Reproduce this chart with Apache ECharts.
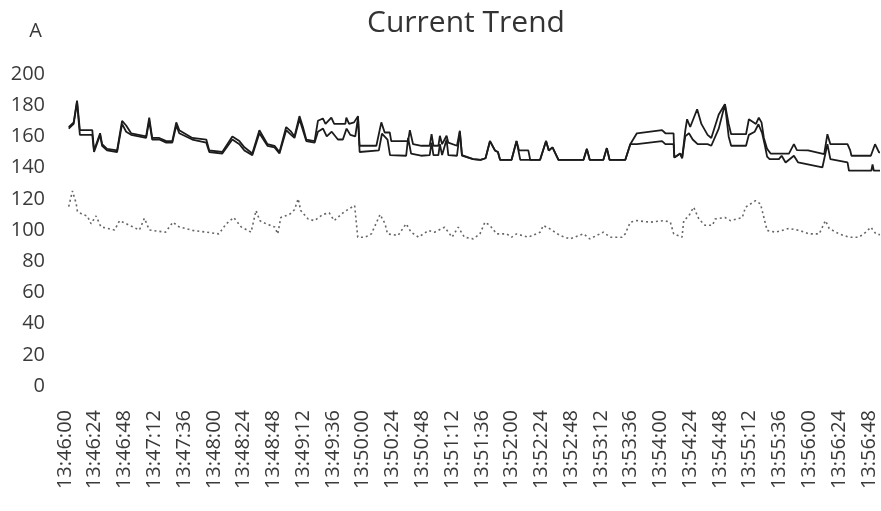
<!DOCTYPE html>
<html>
<head>
<meta charset="utf-8">
<script src="https://cdn.jsdelivr.net/npm/echarts@6/dist/echarts.min.js"></script>
<style>
html,body{margin:0;padding:0;background:#fff;}
#chart{width:881px;height:511px;}
</style>
</head>
<body>
<div id="chart"></div>
<script>
// seconds after 13:46:00, current in A
const chartTitle = 'Current Trend';
const unitName = 'A';
const startClock = '13:46:00';
const yTicks = [0, 20, 40, 60, 80, 100, 120, 140, 160, 180, 200];

const upperTrace = [
  [3,166],[7,169],[9.7,183],[12,164],[22,164],[23.4,151],[28.3,162],[29.9,155],[33.9,152],[42,151],
  [46,170],[49.3,167],[53.3,162],[65.4,160],[67.9,172],[70.3,159],[76,159],[81.6,157],[86.5,157],[89.7,169],
  [92.1,164],[102.6,159],[113.9,158],[116.3,151],[126.8,150],[134.9,160],[140.6,157],[144.6,153],[151,149],[156.7,164],
  [163.2,155],[168.9,154],[172.9,150],[178.3,166],[182.3,163],[185,160],[189,173],[191.8,166],[194.5,158],[201.2,157],
  [203.9,170],[207.9,171.5],[210,168],[214.7,172],[217,168],[226,168],[226.8,172],[229,168],[233,169],[236.2,173],
  [237.5,154],[251,154],[255,169],[257.7,162.5],[261.8,162.5],[263,157],[276.6,157],[278,164],[280.6,155],[287.4,154],
  [294,154],[295.5,161.4],[297,154],[301,154],[302.2,160.4],[304,155],[307.6,160.4],[309,156],[316,154],[318.3,163.6],
  [320,148],[329,145.4],[335,145],[339,146],[342.6,157],[346.6,151],[349,150],[350.7,145],[360,145],[364,157],
  [366,151],[373.5,151],[375,145],[383,145],[387.8,157],[390,151],[393,153],[397.8,145],[418,145],[420.7,152],
  [423,145],[434,145],[436.8,152.5],[439,145],[451.7,145],[455.7,155],[461,162],[481.3,164],[484,162],[490.6,162],
  [491.2,146.5],[496,149],[497.5,146],[500,163.6],[501.5,171],[504,166],[509.6,177.4],[513,168],[518,161],[521,159],
  [527,174],[532,180.6],[535,168],[537,161.4],[549,161.4],[551.3,171],[552.6,172],[557,168],[559.3,172],[561.5,169],
  [563.4,159],[566,152],[568.8,149],[583.6,149],[587.6,155],[590,151.2],[599,151],[612,148.6],[614.6,161.4],[617,155],
  [630.8,155],[633,151],[634,147.6],[649.6,147.6],[653,155],[656.2,149.7],[657,149.7]
];

const lowerTrace = [
  [3,165],[7,168],[9.7,182],[12,161],[22,161],[23.4,150],[28.3,161],[29.9,154],[33.9,151],[42,150],
  [46,168],[49.3,163],[53.3,161],[65.4,159],[67.9,170],[70.3,158],[76,158],[81.6,156],[86.5,156],[89.7,167],
  [92.1,162],[102.6,158],[113.9,156],[116.3,150],[126.8,149],[134.9,158],[140.6,155],[144.6,151],[151,148],[156.7,162],
  [163.2,154],[168.9,153],[172.9,149],[178.3,164],[182.3,161],[185,159],[189,171],[191.8,164],[194.5,157],[201.2,156],
  [203.9,163],[208,165],[211,160],[215,163],[220,158],[224,158],[227,165],[230,161],[234,160],[236.2,172],
  [237.5,150],[253,151],[255.5,161.7],[260,158],[262,148],[275,147.6],[276.6,159],[279,149],[287,147.6],[294,148],
  [295.5,156],[297,148],[301,148],[302.2,155],[304,148],[307.6,158],[309,148],[316,147.6],[318.3,163],[320,147.6],
  [329,145.4],[335,145],[339,146],[342.6,157],[346.6,151],[349,150],[350.7,145],[360,145],[364,157],[367,145],
  [383,145],[387.8,157],[390,151],[393,153],[397.8,145],[418,145],[420.7,152],[423,145],[434,145],[436.8,152.5],
  [439,145],[451.7,145],[455.7,155],[461,155],[481.3,157],[484,155],[490.6,155],[491.2,146.5],[496,149],[497.5,146],
  [500,160],[503,162],[506,158],[510,155],[518,155],[521,154],[527,165],[532,180.6],[535,160],[537,154],
  [549,154],[551.3,161],[556,163],[559,167.8],[562,162],[564,155],[566,147],[568,145.4],[575.5,145.4],[577.7,147.6],
  [580.9,143.3],[587.6,147.6],[591,143.3],[610.6,140.2],[614.6,155],[617,145.4],[630.8,143.3],[632,138],[650,138],[651,142],
  [652,138],[657,138]
];

const dottedTrace = [
  [3,115],[6,125],[9,117],[10,112],[14,110],[18,109],[21,104],[25,109],[29,102],[40,100],
  [44,106],[60,100],[64,107.5],[68,100],[81,98.6],[87,105],[92,102],[103,99.7],[114,98.6],[124,97.5],
  [130,104],[136,108],[142,102],[150,98.6],[154,112.5],[157,106],[162,104],[169,102],[171.5,97.5],[174,108],
  [181,110],[185,113],[188,120],[190,112.5],[196,107],[201,106],[208,110],[213,111],[217,106],[225,111.6],
  [233.5,115.7],[236,95.4],[242,95.4],[247,97.5],[254,110],[258,104],[260,97.5],[268.5,96.5],[275,104],[279,98.6],
  [285,95.4],[293,99.7],[298,98.6],[306,101.8],[312,95.4],[317,101.8],[322,95.4],[329,94.3],[334.5,97.5],[338.5,105],
  [342.6,102.9],[348,97.5],[356,97.5],[360,95.4],[364,97.5],[373.5,95.4],[383,98.6],[385.6,102.9],[391,100.7],[399,96.5],
  [407,94.3],[418,97.5],[423,94.3],[434,98.6],[439.5,95.4],[449,95.4],[451.6,97.5],[455.7,105],[461,106],[472,105],
  [482.6,106],[488,105],[490.7,97.5],[492,97.5],[497.4,95.4],[498.8,106],[502.8,109],[506.8,114.6],[511,107],[516,103],
  [522,103],[524,107],[532,108],[536.5,106],[546,108],[548.6,114.6],[556.7,118.8],[560.7,116.7],[563.4,108],[566,99.7],
  [573,98.6],[583.6,101],[592,99.7],[600,97.5],[608,97.5],[613,106],[616,101],[624,97.5],[632,95.4],[640,95.4],
  [645.6,98.6],[649.6,101.8],[653.7,97.5],[657,97]
];

function clockLabel(sec) {
  const p = startClock.split(':').map(Number);
  let tot = p[0] * 3600 + p[1] * 60 + p[2] + Math.round(sec);
  const h = Math.floor(tot / 3600), m = Math.floor((tot % 3600) / 60), s = tot % 60;
  const pad = n => (n < 10 ? '0' : '') + n;
  return h + ':' + pad(m) + ':' + pad(s);
}

const FONT = '"Open Sans", sans-serif';
const chart = echarts.init(document.getElementById('chart'), null, { renderer: 'canvas' });
chart.setOption({
  animation: false,
  backgroundColor: '#fff',
  title: {
    text: chartTitle,
    left: 362,
    top: 3,
    textStyle: { fontFamily: FONT, fontSize: 30, fontWeight: 'normal', color: '#333' }
  },
  grid: { left: 65, right: 1, top: 74, bottom: 125 },
  xAxis: {
    type: 'value',
    min: 0,
    max: 657,
    interval: 24,
    axisLine: { show: false },
    axisTick: { show: false },
    splitLine: { show: false },
    axisLabel: {
      rotate: 90,
      margin: 24,
      showMaxLabel: false,
      fontFamily: FONT,
      fontSize: 20,
      color: '#3a3a3a',
      formatter: v => clockLabel(v)
    }
  },
  yAxis: {
    type: 'value',
    min: yTicks[0],
    max: yTicks[yTicks.length - 1],
    interval: yTicks[1] - yTicks[0],
    name: unitName,
    nameLocation: 'end',
    nameGap: 33,
    nameTextStyle: { fontFamily: FONT, fontSize: 20, color: '#3a3a3a', align: 'right', padding: [0, 23, 0, 0] },
    axisLine: { show: false },
    axisTick: { show: false },
    splitLine: { show: false },
    axisLabel: { margin: 20, fontFamily: FONT, fontSize: 20, color: '#3a3a3a' }
  },
  series: [
    {
      type: 'line', data: dottedTrace, showSymbol: false, symbol: 'none',
      lineStyle: { color: '#666', width: 1.6, type: [2, 3] }
    },
    {
      type: 'line', data: lowerTrace, showSymbol: false, symbol: 'none',
      lineStyle: { color: '#1c1c1c', width: 1.8 }
    },
    {
      type: 'line', data: upperTrace, showSymbol: false, symbol: 'none',
      lineStyle: { color: '#1c1c1c', width: 1.8 }
    }
  ]
});
</script>
</body>
</html>
